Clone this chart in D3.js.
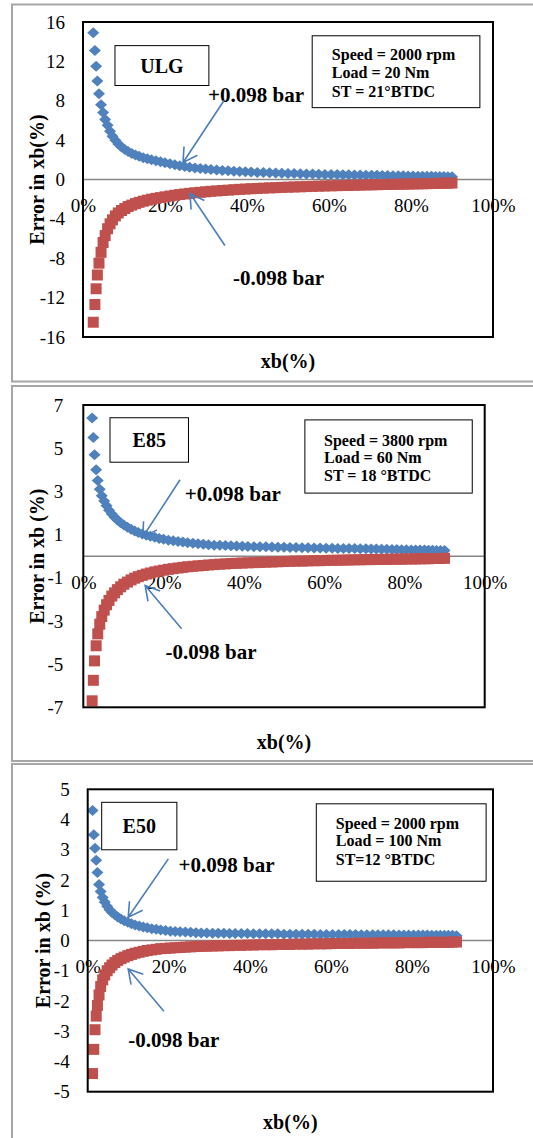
<!DOCTYPE html>
<html>
<head>
<meta charset="utf-8">
<script src="https://cdn.jsdelivr.net/npm/d3@7"></script>
<style>
  body { margin: 0; background: #fff; }
</style>
</head>
<body>
<div id="chart"></div>
<script>
var width = 533,
    height = 1138;

var xTicks = [0, 20, 40, 60, 80, 100];

// ULG, 2000 rpm / 20 Nm
var ulgYTicks = [-16, -12, -8, -4, 0, 4, 8, 12, 16];
var ulgX = [2.5, 2.9, 3.2, 3.5, 3.9, 4.4, 4.9, 5.4, 6.0, 6.6, 7.2, 7.9, 8.6, 9.4,
    10.2, 11.0, 11.9, 12.8, 13.7, 14.7, 15.7, 16.7, 17.8, 18.9, 20.0,
    21.2, 22.4, 23.6, 24.8, 26.0, 27.3, 28.6, 29.9,
    31.2, 32.6, 34.0, 35.4, 36.8, 38.2, 39.6,
    41.0, 42.5, 44.0, 45.5, 47.0, 48.5, 50.0,
    51.5, 53.0, 54.5, 56.0, 57.5, 59.0, 60.5,
    62.0, 63.4, 64.8, 66.2, 67.6, 69.0,
    70.4, 71.7, 73.0, 74.3, 75.6, 76.9, 78.1, 79.3,
    80.5, 81.7, 82.8, 83.9, 85.0, 86.0, 87.0, 88.0, 89.0, 90.0];
var ulgPlus = [14.9, 13.1, 11.5, 10.0, 8.7, 7.6, 6.8, 6.1, 5.5, 4.9, 4.4, 4.0, 3.6, 3.3,
    3.05, 2.85, 2.65, 2.5, 2.35, 2.2, 2.1, 2.0, 1.9, 1.8, 1.7,
    1.6, 1.5, 1.4, 1.32, 1.25, 1.18, 1.12, 1.06,
    1.01, 0.96, 0.92, 0.88, 0.84, 0.81, 0.78,
    0.75, 0.72, 0.70, 0.68, 0.66, 0.64, 0.62,
    0.60, 0.58, 0.57, 0.55, 0.54, 0.52, 0.51,
    0.50, 0.48, 0.47, 0.46, 0.45, 0.44,
    0.43, 0.42, 0.41, 0.40, 0.39, 0.38, 0.37, 0.36,
    0.35, 0.34, 0.34, 0.33, 0.32, 0.31, 0.30, 0.30, 0.29, 0.28];
var ulgMinus = [-14.5, -12.7, -11.1, -9.7, -8.5, -7.4, -6.4, -5.7, -5.0, -4.5, -4.1, -3.7, -3.4, -3.15,
    -2.95, -2.75, -2.6, -2.45, -2.32, -2.2, -2.1, -2.0, -1.92, -1.84, -1.76,
    -1.68, -1.6, -1.53, -1.47, -1.41, -1.35, -1.3, -1.25,
    -1.2, -1.16, -1.12, -1.08, -1.04, -1.0, -0.97,
    -0.94, -0.91, -0.88, -0.85, -0.83, -0.8, -0.78,
    -0.76, -0.74, -0.72, -0.7, -0.68, -0.66, -0.64,
    -0.63, -0.61, -0.6, -0.58, -0.57, -0.55,
    -0.54, -0.53, -0.51, -0.5, -0.49, -0.48, -0.47, -0.46,
    -0.45, -0.44, -0.43, -0.42, -0.41, -0.4, -0.39, -0.38, -0.37, -0.36];
var ulgInfo = ["Speed = 2000 rpm", "Load = 20 Nm", "ST = 21\u00B0BTDC"];

// E85, 3800 rpm / 60 Nm
var e85YTicks = [-7, -5, -3, -1, 1, 3, 5, 7];
var e85X = [2.2, 2.5, 2.8, 3.2, 3.6, 4.1, 4.6, 5.2, 5.8, 6.4, 7.1, 7.8, 8.5, 9.3,
    10.1, 11.0, 11.9, 12.8, 13.7, 14.7, 15.7, 16.7, 17.8, 18.9, 20.0,
    21.2, 22.4, 23.6, 24.8, 26.0, 27.3, 28.6, 29.9,
    31.2, 32.6, 34.0, 35.4, 36.8, 38.2, 39.6,
    41.0, 42.5, 44.0, 45.5, 47.0, 48.5, 50.0,
    51.5, 53.0, 54.5, 56.0, 57.5, 59.0, 60.5,
    62.0, 63.4, 64.8, 66.2, 67.6, 69.0,
    70.4, 71.7, 73.0, 74.3, 75.6, 76.9, 78.1, 79.3,
    80.5, 81.7, 82.8, 83.9, 85.0, 86.0, 87.0, 88.0, 89.0, 90.0];
var e85Plus = [6.4, 5.5, 4.7, 4.0, 3.5, 3.1, 2.8, 2.55, 2.33, 2.13, 1.95, 1.8, 1.67, 1.55,
    1.44, 1.34, 1.25, 1.17, 1.10, 1.03, 0.97, 0.92, 0.87, 0.82, 0.78,
    0.74, 0.71, 0.68, 0.65, 0.62, 0.60, 0.57, 0.55,
    0.53, 0.51, 0.50, 0.49, 0.48, 0.47, 0.46,
    0.45, 0.44, 0.43, 0.43, 0.42, 0.41, 0.41,
    0.40, 0.40, 0.39, 0.39, 0.38, 0.38, 0.37,
    0.37, 0.36, 0.36, 0.35, 0.35, 0.34,
    0.34, 0.33, 0.33, 0.32, 0.32, 0.31, 0.31, 0.30,
    0.30, 0.29, 0.29, 0.28, 0.28, 0.27, 0.27, 0.26, 0.26, 0.26];
var e85Minus = [-6.7, -5.75, -4.85, -4.15, -3.6, -3.15, -2.8, -2.5, -2.25, -2.05, -1.85, -1.7, -1.55, -1.42,
    -1.3, -1.2, -1.1, -1.02, -0.95, -0.89, -0.83, -0.78, -0.73, -0.69, -0.65,
    -0.61, -0.58, -0.55, -0.52, -0.49, -0.47, -0.45, -0.43,
    -0.41, -0.39, -0.37, -0.36, -0.34, -0.33, -0.32,
    -0.31, -0.30, -0.29, -0.28, -0.27, -0.26, -0.25,
    -0.24, -0.23, -0.23, -0.22, -0.21, -0.21, -0.20,
    -0.19, -0.19, -0.18, -0.18, -0.17, -0.17,
    -0.16, -0.16, -0.15, -0.15, -0.15, -0.14, -0.14, -0.14,
    -0.13, -0.13, -0.13, -0.12, -0.12, -0.12, -0.11, -0.11, -0.11, -0.10];
var e85Info = ["Speed = 3800 rpm", "Load = 60 Nm", "ST = 18 \u00B0BTDC"];

// E50, 2000 rpm / 100 Nm
var e50YTicks = [-5, -4, -3, -2, -1, 0, 1, 2, 3, 4, 5];
var e50X = [1.2, 1.5, 1.8, 2.1, 2.4, 2.8, 3.2, 3.7, 4.2, 4.8, 5.4, 6.0, 6.7, 7.4,
    8.2, 9.0, 9.9, 10.8, 11.7, 12.7, 13.7, 14.7, 15.8, 16.9, 18.0,
    19.2, 20.4, 21.6, 22.8, 24.1, 25.4, 26.7, 28.0,
    29.4, 30.8, 32.2, 33.6, 35.0, 36.4, 37.9,
    39.4, 40.9, 42.4, 43.9, 45.4, 46.9, 48.4,
    49.9, 51.4, 52.9, 54.4, 55.9, 57.4, 58.9,
    60.4, 61.9, 63.3, 64.7, 66.1, 67.5,
    68.9, 70.3, 71.6, 72.9, 74.2, 75.5, 76.8, 78.0,
    79.2, 80.4, 81.6, 82.7, 83.8, 84.9, 86.0, 87.0, 88.0, 89.0, 90.0, 91.0];
var e50Plus = [4.3, 3.5, 3.05, 2.65, 2.25, 1.85, 1.62, 1.42, 1.27, 1.13, 1.02, 0.93, 0.85, 0.78,
    0.71, 0.65, 0.6, 0.55, 0.51, 0.48, 0.45, 0.42, 0.39, 0.37, 0.35,
    0.33, 0.31, 0.30, 0.29, 0.28, 0.27, 0.26, 0.25,
    0.25, 0.24, 0.24, 0.24, 0.23, 0.23, 0.23,
    0.23, 0.22, 0.22, 0.22, 0.22, 0.22, 0.21,
    0.21, 0.21, 0.21, 0.21, 0.21, 0.20, 0.20,
    0.20, 0.20, 0.20, 0.20, 0.20, 0.19,
    0.19, 0.19, 0.19, 0.19, 0.19, 0.19, 0.18, 0.18,
    0.18, 0.18, 0.18, 0.18, 0.18, 0.17, 0.17, 0.17, 0.17, 0.17, 0.17, 0.16];
var e50Minus = [-4.4, -3.6, -2.95, -2.5, -2.15, -1.8, -1.52, -1.3, -1.14, -1.0, -0.9, -0.81, -0.73, -0.66,
    -0.6, -0.55, -0.5, -0.46, -0.42, -0.39, -0.36, -0.33, -0.31, -0.29, -0.27,
    -0.26, -0.25, -0.24, -0.23, -0.22, -0.21, -0.2, -0.19,
    -0.19, -0.18, -0.18, -0.17, -0.17, -0.16, -0.16,
    -0.15, -0.15, -0.14, -0.14, -0.14, -0.13, -0.13,
    -0.13, -0.12, -0.12, -0.12, -0.11, -0.11, -0.11,
    -0.10, -0.10, -0.10, -0.10, -0.09, -0.09,
    -0.09, -0.09, -0.08, -0.08, -0.08, -0.08, -0.08, -0.07,
    -0.07, -0.07, -0.07, -0.07, -0.06, -0.06, -0.06, -0.06, -0.06, -0.06, -0.05, -0.05];
var e50Info = ["Speed = 2000 rpm", "Load = 100 Nm", "ST=12 \u00B0BTDC"];

var serif = "'Liberation Serif', 'Times New Roman', serif";
var blue = "#4F81BD", red = "#C0504D", arrowBlue = "#4A7EBB";

// layout of the three stacked charts; annotation spots are in data units
var panels = [
  { frame: [12, 4.5, 600, 377], plot: [83, 493, 22, 337], yDomain: [-16, 16], yTicks: ulgYTicks,
    xs: ulgX, plus: ulgPlus, minus: ulgMinus, name: "ULG", info: ulgInfo,
    nameBox: [7.8, 30.7, 13.6, 9.55], infoBox: [55.9, 96.8, 14.6, 7.3], infoX: 60.7, infoY: [12.1, 10.3, 8.4],
    plusLabel: [30.5, 7.9], minusLabel: [36.6, -10.7],
    arrowPlus: [[34.4, 8.03], [24.4, 1.73]], arrowMinus: [[34.6, -6.7], [26.1, -1.42]],
    yTitle: "Error in xb(%)", titleX: 37, xTitleY: 368, tickPad: 18 },
  { frame: [12, 386, 600, 375], plot: [83.3, 484.7, 405, 707.3], yDomain: [-7, 7], yTicks: e85YTicks,
    xs: e85X, plus: e85Plus, minus: e85Minus, name: "E85", info: e85Info,
    nameBox: [6.65, 26.2, 6.41, 4.35], infoBox: [55.2, 96.9, 6.31, 2.92], infoX: 59.97, infoY: [5.12, 4.31, 3.46],
    plusLabel: [25.3, 2.55], minusLabel: [20.5, -4.78],
    arrowPlus: [[24.1, 3.54], [14.8, 0.88]], arrowMinus: [[24.5, -3.36], [15.4, -1.36]],
    yTitle: "Error in xb (%)", titleX: 37, xTitleY: 749, tickPad: 20 },
  { frame: [12, 764, 600, 400], plot: [87.7, 493, 789.3, 1091.7], yDomain: [-5, 5], yTicks: e50YTicks,
    xs: e50X, plus: e50Plus, minus: e50Minus, name: "E50", info: e50Info,
    nameBox: [3.45, 22.0, 4.57, 3.0], infoBox: [56.4, 98.3, 4.52, 1.96], infoX: 61.2, infoY: [3.69, 3.11, 2.51],
    plusLabel: [22.4, 2.26], minusLabel: [10.0, -3.53],
    arrowPlus: [[19.9, 2.7], [10.0, 0.77]], arrowMinus: [[18.8, -2.34], [10.0, -0.94]],
    yTitle: "Error in xb (%)", titleX: 43, xTitleY: 1129, tickPad: 18 }
];

var svg = d3.select("#chart").append("svg")
    .attr("width", width)
    .attr("height", height)
    .style("display", "block");

svg.append("rect").attr("width", width).attr("height", height).attr("fill", "#fff");

var diamond = "M0,-5.5L6,0L0,5.5L-6,0Z";
var square = d3.symbol().type(d3.symbolSquare).size(121)();

function arrow(g, from, to) {
    // shaft plus an open V head at the "to" end
    var dx = from[0] - to[0], dy = from[1] - to[1],
        a = Math.atan2(dy, dx), len = 16, spread = Math.PI / 6;
    var p1 = [to[0] + len * Math.cos(a + spread), to[1] + len * Math.sin(a + spread)],
        p2 = [to[0] + len * Math.cos(a - spread), to[1] + len * Math.sin(a - spread)];
    g.append("path")
        .attr("d", "M" + from + "L" + to + "M" + p1 + "L" + to + "L" + p2)
        .attr("fill", "none")
        .attr("stroke", arrowBlue)
        .attr("stroke-width", 1.6);
}

function drawPanel(p) {
    var x = d3.scaleLinear().domain([0, 100]).range([p.plot[0], p.plot[1]]);
    var y = d3.scaleLinear().domain(p.yDomain).range([p.plot[3], p.plot[2]]);
    var g = svg.append("g");

    g.append("rect")
        .attr("x", p.frame[0]).attr("y", p.frame[1])
        .attr("width", p.frame[2]).attr("height", p.frame[3])
        .attr("fill", "none").attr("stroke", "#a6a6a6").attr("stroke-width", 2);

    var yAxis = g.append("g")
        .attr("transform", "translate(" + p.plot[0] + ",0)")
        .call(d3.axisLeft(y).tickValues(p.yTicks).tickSize(0).tickPadding(p.tickPad)
            .tickFormat(function(d) { return String(d); }));
    yAxis.select(".domain").remove();
    yAxis.selectAll("text").attr("font-family", serif).attr("font-size", 19).attr("fill", "#000");

    var xAxis = g.append("g")
        .attr("transform", "translate(0," + y(0) + ")")
        .call(d3.axisBottom(x).tickValues(xTicks).tickSize(0).tickPadding(19)
            .tickFormat(function(d) { return d + "%"; }));
    xAxis.select(".domain").remove();
    xAxis.selectAll("text").attr("font-family", serif).attr("font-size", 19).attr("fill", "#000");

    g.append("line")
        .attr("x1", x(0)).attr("x2", x(100))
        .attr("y1", y(0)).attr("y2", y(0))
        .attr("stroke", "#868686").attr("stroke-width", 1.5);

    g.append("g").selectAll("path")
        .data(p.plus)
        .enter().append("path")
        .attr("d", diamond)
        .attr("transform", function(d, i) { return "translate(" + x(p.xs[i]) + "," + y(d) + ")"; })
        .attr("fill", blue);

    g.append("g").selectAll("path")
        .data(p.minus)
        .enter().append("path")
        .attr("d", square)
        .attr("transform", function(d, i) { return "translate(" + x(p.xs[i]) + "," + y(d) + ")"; })
        .attr("fill", red);

    g.append("rect")
        .attr("x", p.plot[0]).attr("y", p.plot[2])
        .attr("width", p.plot[1] - p.plot[0]).attr("height", p.plot[3] - p.plot[2])
        .attr("fill", "none").attr("stroke", "#000").attr("stroke-width", 2);

    // fuel name box
    var nb = p.nameBox;
    g.append("rect")
        .attr("x", x(nb[0])).attr("y", y(nb[2]))
        .attr("width", x(nb[1]) - x(nb[0])).attr("height", y(nb[3]) - y(nb[2]))
        .attr("fill", "#fff").attr("stroke", "#000").attr("stroke-width", 1);
    g.append("text")
        .attr("x", (x(nb[0]) + x(nb[1])) / 2)
        .attr("y", (y(nb[2]) + y(nb[3])) / 2)
        .attr("dy", "0.35em")
        .attr("text-anchor", "middle")
        .attr("font-family", serif).attr("font-weight", "bold").attr("font-size", 20)
        .text(p.name);

    // operating point box
    var ib = p.infoBox;
    g.append("rect")
        .attr("x", x(ib[0])).attr("y", y(ib[2]))
        .attr("width", x(ib[1]) - x(ib[0])).attr("height", y(ib[3]) - y(ib[2]))
        .attr("fill", "#fff").attr("stroke", "#000").attr("stroke-width", 1);
    g.append("g").selectAll("text")
        .data(p.info)
        .enter().append("text")
        .attr("x", x(p.infoX))
        .attr("y", function(d, i) { return y(p.infoY[i]); })
        .attr("font-family", serif).attr("font-weight", "bold").attr("font-size", 16)
        .text(function(d) { return d; });

    g.append("text")
        .attr("x", x(p.plusLabel[0])).attr("y", y(p.plusLabel[1]))
        .attr("font-family", serif).attr("font-weight", "bold").attr("font-size", 21)
        .text("+0.098 bar");
    g.append("text")
        .attr("x", x(p.minusLabel[0])).attr("y", y(p.minusLabel[1]))
        .attr("font-family", serif).attr("font-weight", "bold").attr("font-size", 21)
        .text("-0.098 bar");

    arrow(g, [x(p.arrowPlus[0][0]), y(p.arrowPlus[0][1])], [x(p.arrowPlus[1][0]), y(p.arrowPlus[1][1])]);
    arrow(g, [x(p.arrowMinus[0][0]), y(p.arrowMinus[0][1])], [x(p.arrowMinus[1][0]), y(p.arrowMinus[1][1])]);

    var cy = (p.plot[2] + p.plot[3]) / 2;
    g.append("text")
        .attr("transform", "translate(" + p.titleX + "," + cy + ") rotate(-90)")
        .attr("text-anchor", "middle")
        .attr("dy", "0.35em")
        .attr("font-family", serif).attr("font-weight", "bold").attr("font-size", 20)
        .text(p.yTitle);

    g.append("text")
        .attr("x", (p.plot[0] + p.plot[1]) / 2)
        .attr("y", p.xTitleY)
        .attr("text-anchor", "middle")
        .attr("font-family", serif).attr("font-weight", "bold").attr("font-size", 20)
        .text("xb(%)");
}

panels.forEach(drawPanel);
</script>
</body>
</html>
